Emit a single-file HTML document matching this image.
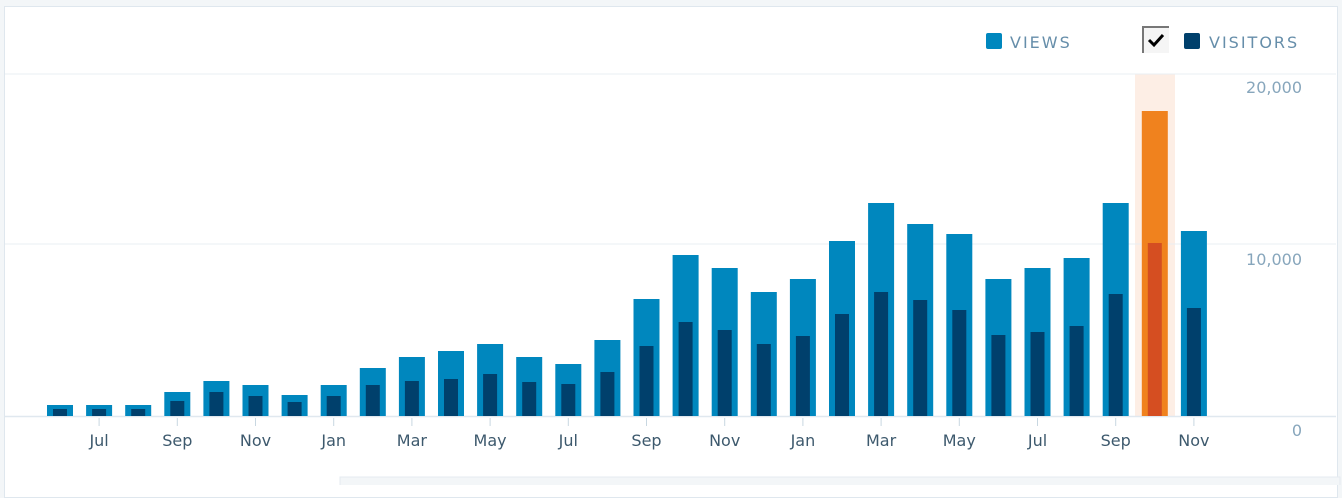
<!DOCTYPE html>
<html><head><style>
body{margin:0;width:1342px;height:485px;background:#f3f6f8;font-family:"Liberation Sans","DejaVu Sans",sans-serif;overflow:hidden;position:relative}
.card{position:absolute;left:4px;top:6px;width:1332px;height:490px;background:#fff;border:1px solid #dfe7ee}
</style></head><body>
<div class="card"></div>
<svg width="1342" height="485" style="position:absolute;left:0;top:0">
<rect x="1135" y="74" width="40" height="342" fill="#fdeee5"/>
<line x1="5" y1="74" x2="1336" y2="74" stroke="#e9eff3"/>
<line x1="5" y1="244" x2="1336" y2="244" stroke="#e9eff3"/>
<line x1="5" y1="416.5" x2="1336" y2="416.5" stroke="#e0e8ef" stroke-width="1.5"/>
<g id="bars"></g>
<g font-family="DejaVu Sans, sans-serif" font-size="16" fill="#87a6bc" text-anchor="end">
<text x="1302" y="93">20,000</text><text x="1302" y="265">10,000</text><text x="1302" y="436">0</text>
</g>
<g font-family="DejaVu Sans, sans-serif" font-size="16" fill="#3d596d" text-anchor="middle" id="xl"></g>
<rect x="986" y="33" width="16" height="16" rx="2" fill="#0087be"/>
<text x="1010" y="48" font-family="DejaVu Sans, sans-serif" font-size="16" fill="#668eaa" letter-spacing="2">VIEWS</text>
<rect x="1143" y="27" width="26" height="26" fill="#f5f5f5"/>
<path d="M1143 53 V27 H1169" fill="none" stroke="#777" stroke-width="2"/>
<path d="M1149 40 l5 5 l9 -10" fill="none" stroke="#000" stroke-width="3"/>
<rect x="1184" y="33" width="16" height="16" rx="2" fill="#00406c"/>
<text x="1209" y="48" font-family="DejaVu Sans, sans-serif" font-size="16" fill="#668eaa" letter-spacing="2">VISITORS</text>
<rect x="340" y="477" width="1000" height="10" fill="#f3f6f8" stroke="#e5ebf0"/>
</svg>
<script>
var v=[405,405,405,392,381,385,395,385,368,357,351,344,357,364,340,299,255,268,292,279,241,203,224,234,279,268,258,203,111,231];
var u=[409,409,409,401,392,396,402,396,385,381,379,374,382,384,372,322,322,330,344,336,314,292,300,310,335,332,326,294,243,308];
u[15]=346;
var g=document.getElementById('bars'),s='';
for(var i=0;i<30;i++){var c=60+i*39.1;var o=i==28;
s+='<rect x="'+(c-13)+'" y="'+v[i]+'" width="26" height="'+(416-v[i])+'" fill="'+(o?'#f0821e':'#0087be')+'"/>';
s+='<rect x="'+(c-7)+'" y="'+u[i]+'" width="14" height="'+(416-u[i])+'" fill="'+(o?'#d54e21':'#00406c')+'"/>';}
g.innerHTML=s;
var m=['Jul','Sep','Nov','Jan','Mar','May','Jul','Sep','Nov','Jan','Mar','May','Jul','Sep','Nov'],t='';
for(var j=0;j<15;j++){var c=60+(1+2*j)*39.1;t+='<text x="'+c+'" y="446">'+m[j]+'</text><line x1="'+c+'" y1="418" x2="'+c+'" y2="426" stroke="#c8d7e1"/>';}
document.getElementById('xl').innerHTML=t;
</script>
</body></html>
